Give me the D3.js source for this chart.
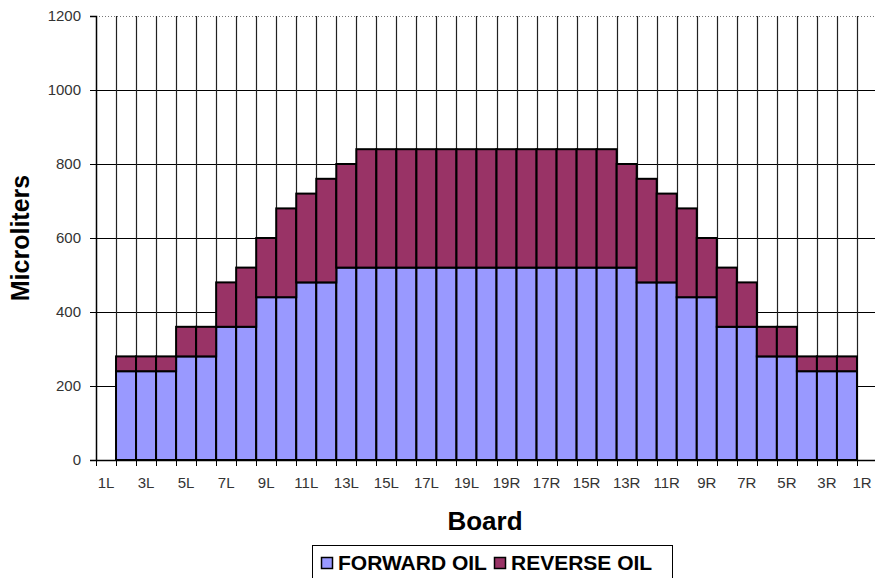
<!DOCTYPE html>
<html>
<head>
<meta charset="utf-8">
<script src="https://cdn.jsdelivr.net/npm/d3@7"></script>
<style>
    body { margin: 0; background: #fff; }
    svg { display: block; font-family: "Liberation Sans", Arial, sans-serif; }
</style>
</head>
<body>
<svg id="svg" width="875" height="578"></svg>
<script>
// boards, left side then right side
var boards = ["1L", "2L", "3L", "4L", "5L", "6L", "7L", "8L", "9L", "10L",
    "11L", "12L", "13L", "14L", "15L", "16L", "17L", "18L", "19L", "20",
    "19R", "18R", "17R", "16R", "15R", "14R", "13R", "12R", "11R", "10R",
    "9R", "8R", "7R", "6R", "5R", "4R", "3R", "2R", "1R"];

var forward_oil = [null, 240, 240, 240, 280, 280, 360, 360, 440, 440,
    480, 480, 520, 520, 520, 520, 520, 520, 520, 520,
    520, 520, 520, 520, 520, 520, 520, 480, 480, 440,
    440, 360, 360, 280, 280, 240, 240, 240, null];

var reverse_oil = [null, 40, 40, 40, 80, 80, 120, 160, 160, 240,
    240, 280, 280, 320, 320, 320, 320, 320, 320, 320,
    320, 320, 320, 320, 320, 320, 280, 280, 240, 240,
    160, 160, 120, 80, 80, 40, 40, 40, null];

var y_ticks = [0, 200, 400, 600, 800, 1000, 1200];
var series_names = ["FORWARD OIL", "REVERSE OIL"];
var series_colors = ["#9999ff", "#993366"];

draw_chart();

function draw_chart() {
    var svg = d3.select("svg"),
        margin = {top: 16, right: -2, bottom: 118, left: 96},
        width = 875 - margin.left - margin.right,
        height = 578 - margin.top - margin.bottom;

    var g = svg.append("g").attr("transform", "translate(" + margin.left + "," + margin.top + ")");

    var rows = boards.map(function (b, i) {
        return {board: b, forward: forward_oil[i] || 0, reverse: reverse_oil[i] || 0};
    });

    var x = d3.scaleBand()
        .domain(boards)
        .range([0, width])
        .padding(0);

    var y = d3.scaleLinear()
        .domain([0, 1200])
        .range([height, 0]);

    // horizontal gridlines
    g.selectAll(".hgrid")
        .data(y_ticks.filter(function (d) { return d > 0 && d < 1200; }))
        .enter().append("line")
        .attr("x1", 0).attr("x2", width)
        .attr("y1", function (d) { return y(d) + 0.5; })
        .attr("y2", function (d) { return y(d) + 0.5; })
        .attr("stroke", "#000")
        .attr("stroke-width", 1);

    // top border of the plot area is dotted
    g.append("line")
        .attr("x1", 0).attr("x2", width)
        .attr("y1", y(1200) + 0.5).attr("y2", y(1200) + 0.5)
        .attr("stroke", "#777")
        .attr("stroke-dasharray", "1,2");

    // vertical gridlines on every category boundary
    var bounds = boards.map(function (b) { return x(b); }).concat([width]);
    g.selectAll(".vgrid")
        .data(bounds.slice(1))
        .enter().append("line")
        .attr("x1", function (d) { return Math.round(d) + 0.5; })
        .attr("x2", function (d) { return Math.round(d) + 0.5; })
        .attr("y1", y(1200)).attr("y2", height)
        .attr("stroke", "#222")
        .attr("stroke-width", 1.2);

    // stacked bars
    var stack = d3.stack().keys(["forward", "reverse"]);
    var layers = stack(rows);

    g.selectAll(".layer")
        .data(layers)
        .enter().append("g")
        .attr("class", "layer")
        .attr("fill", function (d, i) { return series_colors[i]; })
        .selectAll("rect")
        .data(function (d) { return d.filter(function (p) { return p[1] > p[0]; }); })
        .enter().append("rect")
        .attr("x", function (d) { return x(d.data.board); })
        .attr("y", function (d) { return y(d[1]); })
        .attr("width", x.bandwidth())
        .attr("height", function (d) { return y(d[0]) - y(d[1]); })
        .attr("stroke", "#000")
        .attr("stroke-width", 2);

    // y axis
    var yAxis = g.append("g")
        .call(d3.axisLeft(y).tickValues(y_ticks).tickFormat(d3.format("d")).tickSize(6).tickPadding(9));
    yAxis.select(".domain").attr("stroke", "#000").attr("stroke-width", 1.5);
    yAxis.selectAll("text").attr("font-size", "15px").attr("fill", "#333")
        .attr("font-family", "Liberation Sans, Arial, sans-serif");

    // x axis, labels on every second board
    var xAxis = g.append("g")
        .attr("transform", "translate(0," + height + ")")
        .call(d3.axisBottom(x).tickSize(0).tickPadding(17)
            .tickFormat(function (d, i) { return i % 2 === 0 ? d : ""; }));
    xAxis.select(".domain").attr("stroke", "#000").attr("stroke-width", 1.5);
    xAxis.selectAll("text").attr("font-size", "15px").attr("fill", "#333")
        .attr("font-family", "Liberation Sans, Arial, sans-serif");
    // last label sits at the right edge, pull it in a bit
    xAxis.selectAll("text").filter(function (d) { return d === boards[boards.length - 1]; })
        .attr("dx", -5);

    // tick marks between categories
    g.selectAll(".xtick")
        .data(bounds)
        .enter().append("line")
        .attr("x1", function (d) { return Math.round(d) + 0.5; })
        .attr("x2", function (d) { return Math.round(d) + 0.5; })
        .attr("y1", height).attr("y2", height + 6)
        .attr("stroke", "#000");

    // axis titles
    svg.append("text")
        .attr("transform", "translate(29," + (margin.top + height / 2) + ") rotate(-90)")
        .attr("text-anchor", "middle")
        .attr("font-weight", "bold")
        .style("font-size", "25px")
        .text("Microliters");

    svg.append("text")
        .attr("x", 485)
        .attr("y", 530)
        .attr("text-anchor", "middle")
        .attr("font-weight", "bold")
        .style("font-size", "26px")
        .text("Board");

    // legend
    var legend = svg.append("g").attr("transform", "translate(312,545)");
    legend.append("rect")
        .attr("x", 0.5).attr("y", 0.5)
        .attr("width", 360).attr("height", 50)
        .attr("fill", "#fff")
        .attr("stroke", "#000");

    var item_x = [9, 182];
    var item = legend.selectAll(".item")
        .data(series_names)
        .enter().append("g")
        .attr("transform", function (d, i) { return "translate(" + item_x[i] + ",0)"; });
    item.append("rect")
        .attr("x", 0.5).attr("y", 12.5)
        .attr("width", 11).attr("height", 11)
        .attr("fill", function (d, i) { return series_colors[i]; })
        .attr("stroke", "#000")
        .attr("stroke-width", 1.5);
    item.append("text")
        .attr("x", 17).attr("y", 25)
        .attr("font-weight", "bold")
        .style("font-size", "21px")
        .text(function (d) { return d; });
}
</script>
</body>
</html>
